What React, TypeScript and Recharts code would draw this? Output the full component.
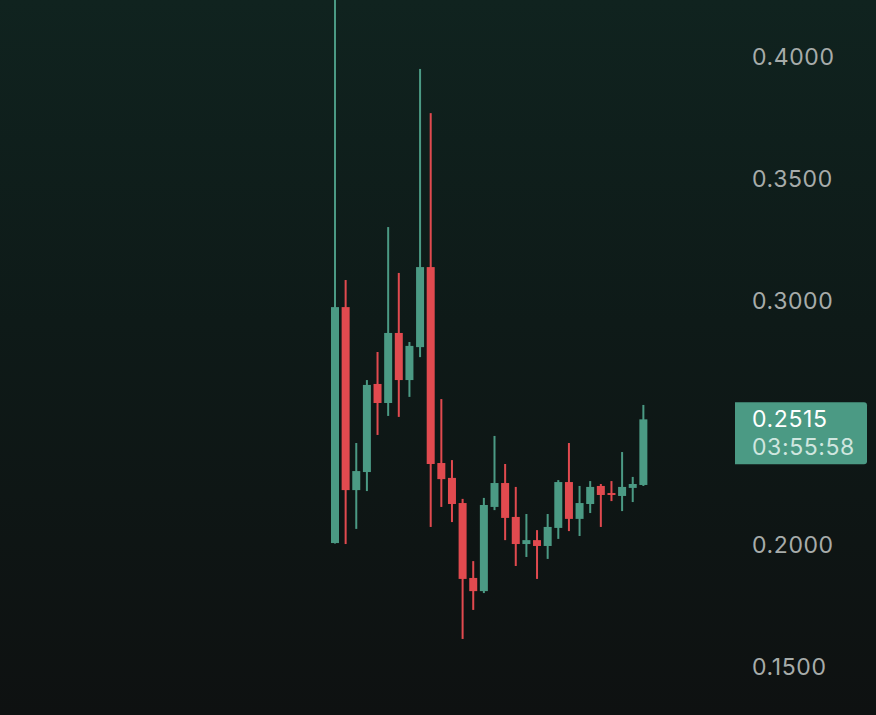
import { ComposedChart, Bar, XAxis, YAxis, ReferenceLine } from "recharts";

// candles, oldest first
const candleIds = Array.from({ length: 30 }, (_, i) => `c${i + 1}`);
const opens = [
  0.2008, 0.2975, 0.2225, 0.2299, 0.266, 0.2582, 0.2869, 0.2676, 0.2811, 0.3139,
  0.2336, 0.2275, 0.2172, 0.1865, 0.1811, 0.2156, 0.2254, 0.2115, 0.2004, 0.202,
  0.1996, 0.207, 0.2258, 0.2107, 0.2168, 0.2242, 0.2213, 0.2201, 0.2234, 0.2246,
];
const highs = [
  0.445, 0.3086, 0.2418, 0.2676, 0.2791, 0.3303, 0.3115, 0.2832, 0.3951, 0.377,
  0.2598, 0.2348, 0.2189, 0.1934, 0.2193, 0.2447, 0.2332, 0.2238, 0.2127, 0.2061,
  0.2127, 0.2266, 0.2418, 0.2242, 0.2262, 0.225, 0.2262, 0.2381, 0.2279, 0.2574,
];
const lows = [
  0.2006, 0.2004, 0.2066, 0.2221, 0.2451, 0.2529, 0.2525, 0.2607, 0.277, 0.2074,
  0.2156, 0.2094, 0.1615, 0.1734, 0.1803, 0.2143, 0.202, 0.1914, 0.1951, 0.1861,
  0.1943, 0.2025, 0.2057, 0.2037, 0.2131, 0.2074, 0.218, 0.2139, 0.2176, 0.2242,
];
const closes = [
  0.2975, 0.2225, 0.2303, 0.2656, 0.2582, 0.2869, 0.2676, 0.2816, 0.3139, 0.2332,
  0.227, 0.2168, 0.1861, 0.1811, 0.2164, 0.2254, 0.2111, 0.2004, 0.202, 0.1996,
  0.2074, 0.2258, 0.2107, 0.2172, 0.2238, 0.2205, 0.2205, 0.2238, 0.225, 0.2515,
];
const priceTicks = [0.15, 0.2, 0.3, 0.35, 0.4];
const lastPrice = 0.2515;
const countdown = "03:55:58";

const UP = "#4b9a84";
const DOWN = "#e14a4f";

const data = candleIds.map((id, i) => ({
  id,
  open: opens[i],
  high: highs[i],
  low: lows[i],
  close: closes[i],
  range: [lows[i], highs[i]],
}));

const Candle = (props: any) => {
  const { x, y, width, height, payload } = props;
  const { open, high, low, close } = payload;
  const color = close >= open ? UP : DOWN;
  const toY = (v: number) => y + ((high - v) / (high - low)) * height;
  const top = toY(Math.max(open, close));
  const bottom = toY(Math.min(open, close));
  const cx = x + width / 2;
  return (
    <g>
      <rect x={cx - 1} y={y} width={2} height={height} fill={color} />
      <rect x={x} y={top} width={width} height={Math.max(bottom - top, 1.5)} fill={color} />
    </g>
  );
};

const PriceTag = (props: any) => {
  const { viewBox } = props;
  const left = viewBox.x + viewBox.width;
  const cy = viewBox.y;
  return (
    <g>
      <path
        d={`M${left},${cy - 17} H${left + 129} a3,3 0 0 1 3,3 V${cy + 42} a3,3 0 0 1 -3,3 H${left} Z`}
        fill={UP}
      />
      <text x={left + 17} y={cy + 8} fill="#ffffff" fontSize={23} fontFamily="Inter" letterSpacing={0.6}>
        {lastPrice.toFixed(4)}
      </text>
      <text x={left + 17} y={cy + 36} fill="#cfe6df" fontSize={23} fontFamily="Inter" letterSpacing={0.6}>
        {countdown}
      </text>
    </g>
  );
};

export default function App() {
  return (
    <div
      style={{
        position: "fixed",
        left: 0,
        top: 0,
        width: 876,
        height: 715,
        background: "linear-gradient(to bottom, #10231f 0%, #0e1a18 45%, #0e1111 100%)",
      }}
    >
      <ComposedChart width={876} height={715} data={data} margin={{ top: 0, right: 0, bottom: 0, left: 0 }}>
        <XAxis dataKey="id" hide padding={{ left: 330, right: 86 }} />
        <YAxis
          orientation="right"
          width={141}
          domain={[0.13033, 0.42336]}
          allowDataOverflow
          ticks={priceTicks}
          tickFormatter={(v: number) => v.toFixed(4)}
          tickLine={false}
          axisLine={false}
          tickMargin={11}
          tick={{ fill: "#a7acaa", fontSize: 23, fontFamily: "Inter", letterSpacing: 0.6 }}
        />
        <Bar dataKey="range" barSize={8} shape={<Candle />} isAnimationActive={false} />
        <ReferenceLine y={lastPrice} stroke="none" label={<PriceTag />} />
      </ComposedChart>
    </div>
  );
}
